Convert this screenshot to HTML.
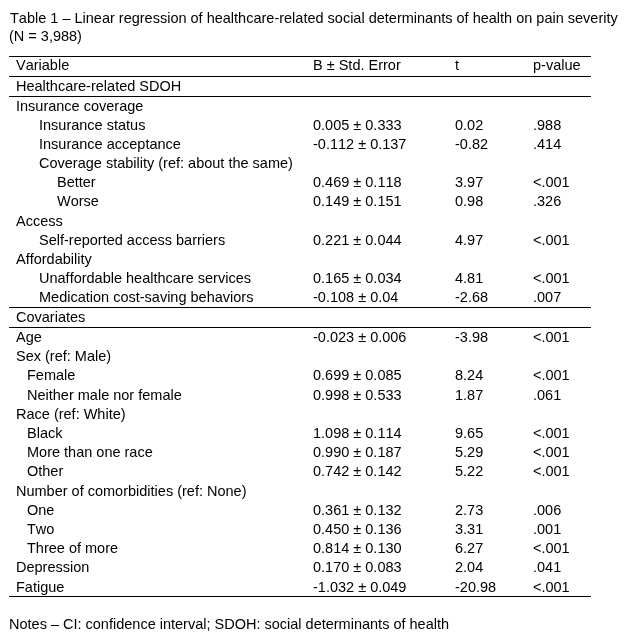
<!DOCTYPE html>
<html lang="en"><head><meta charset="utf-8"><title>Table 1</title>
<style>
html,body{margin:0;padding:0;background:#fff;}
body{width:628px;height:639px;position:relative;overflow:hidden;font-family:"Liberation Sans",Arial,sans-serif;font-size:14.5px;line-height:18px;color:#000;font-kerning:none;}
.t{position:absolute;white-space:nowrap;will-change:transform;}
.l{position:absolute;left:9px;width:582px;height:1px;background:#000;}
</style></head><body>

<div class="t" style="left:10px;top:9px">Table 1 – Linear regression of healthcare-related social determinants of health on pain severity</div>
<div class="t" style="left:9px;top:27px">(N = 3,988)</div>
<div class="l" style="top:56px"></div>
<div class="l" style="top:76px"></div>
<div class="l" style="top:96px"></div>
<div class="l" style="top:307px"></div>
<div class="l" style="top:327px"></div>
<div class="l" style="top:596px"></div>
<div class="t" style="left:16px;top:56px">Variable</div>
<div class="t" style="left:313px;top:56px">B ± Std. Error</div>
<div class="t" style="left:455px;top:56px">t</div>
<div class="t" style="left:533px;top:56px">p-value</div>
<div class="t" style="left:16px;top:77px">Healthcare-related SDOH</div>
<div class="t" style="left:16px;top:97px">Insurance coverage</div>
<div class="t" style="left:39px;top:116px">Insurance status</div>
<div class="t" style="left:313px;top:116px">0.005 ± 0.333</div>
<div class="t" style="left:455px;top:116px">0.02</div>
<div class="t" style="left:533px;top:116px">.988</div>
<div class="t" style="left:39px;top:135px">Insurance acceptance</div>
<div class="t" style="left:313px;top:135px">-0.112 ± 0.137</div>
<div class="t" style="left:455px;top:135px">-0.82</div>
<div class="t" style="left:533px;top:135px">.414</div>
<div class="t" style="left:39px;top:154px">Coverage stability (ref: about the same)</div>
<div class="t" style="left:57px;top:173px">Better</div>
<div class="t" style="left:313px;top:173px">0.469 ± 0.118</div>
<div class="t" style="left:455px;top:173px">3.97</div>
<div class="t" style="left:533px;top:173px">&lt;.001</div>
<div class="t" style="left:57px;top:192px">Worse</div>
<div class="t" style="left:313px;top:192px">0.149 ± 0.151</div>
<div class="t" style="left:455px;top:192px">0.98</div>
<div class="t" style="left:533px;top:192px">.326</div>
<div class="t" style="left:16px;top:212px">Access</div>
<div class="t" style="left:39px;top:231px">Self-reported access barriers</div>
<div class="t" style="left:313px;top:231px">0.221 ± 0.044</div>
<div class="t" style="left:455px;top:231px">4.97</div>
<div class="t" style="left:533px;top:231px">&lt;.001</div>
<div class="t" style="left:16px;top:250px">Affordability</div>
<div class="t" style="left:39px;top:269px">Unaffordable healthcare services</div>
<div class="t" style="left:313px;top:269px">0.165 ± 0.034</div>
<div class="t" style="left:455px;top:269px">4.81</div>
<div class="t" style="left:533px;top:269px">&lt;.001</div>
<div class="t" style="left:39px;top:288px">Medication cost-saving behaviors</div>
<div class="t" style="left:313px;top:288px">-0.108 ± 0.04</div>
<div class="t" style="left:455px;top:288px">-2.68</div>
<div class="t" style="left:533px;top:288px">.007</div>
<div class="t" style="left:16px;top:308px">Covariates</div>
<div class="t" style="left:16px;top:328px">Age</div>
<div class="t" style="left:313px;top:328px">-0.023 ± 0.006</div>
<div class="t" style="left:455px;top:328px">-3.98</div>
<div class="t" style="left:533px;top:328px">&lt;.001</div>
<div class="t" style="left:16px;top:347px">Sex (ref: Male)</div>
<div class="t" style="left:27px;top:366px">Female</div>
<div class="t" style="left:313px;top:366px">0.699 ± 0.085</div>
<div class="t" style="left:455px;top:366px">8.24</div>
<div class="t" style="left:533px;top:366px">&lt;.001</div>
<div class="t" style="left:27px;top:386px">Neither male nor female</div>
<div class="t" style="left:313px;top:386px">0.998 ± 0.533</div>
<div class="t" style="left:455px;top:386px">1.87</div>
<div class="t" style="left:533px;top:386px">.061</div>
<div class="t" style="left:16px;top:405px">Race (ref: White)</div>
<div class="t" style="left:27px;top:424px">Black</div>
<div class="t" style="left:313px;top:424px">1.098 ± 0.114</div>
<div class="t" style="left:455px;top:424px">9.65</div>
<div class="t" style="left:533px;top:424px">&lt;.001</div>
<div class="t" style="left:27px;top:443px">More than one race</div>
<div class="t" style="left:313px;top:443px">0.990 ± 0.187</div>
<div class="t" style="left:455px;top:443px">5.29</div>
<div class="t" style="left:533px;top:443px">&lt;.001</div>
<div class="t" style="left:27px;top:462px">Other</div>
<div class="t" style="left:313px;top:462px">0.742 ± 0.142</div>
<div class="t" style="left:455px;top:462px">5.22</div>
<div class="t" style="left:533px;top:462px">&lt;.001</div>
<div class="t" style="left:16px;top:482px">Number of comorbidities (ref: None)</div>
<div class="t" style="left:27px;top:501px">One</div>
<div class="t" style="left:313px;top:501px">0.361 ± 0.132</div>
<div class="t" style="left:455px;top:501px">2.73</div>
<div class="t" style="left:533px;top:501px">.006</div>
<div class="t" style="left:27px;top:520px">Two</div>
<div class="t" style="left:313px;top:520px">0.450 ± 0.136</div>
<div class="t" style="left:455px;top:520px">3.31</div>
<div class="t" style="left:533px;top:520px">.001</div>
<div class="t" style="left:27px;top:539px">Three of more</div>
<div class="t" style="left:313px;top:539px">0.814 ± 0.130</div>
<div class="t" style="left:455px;top:539px">6.27</div>
<div class="t" style="left:533px;top:539px">&lt;.001</div>
<div class="t" style="left:16px;top:558px">Depression</div>
<div class="t" style="left:313px;top:558px">0.170 ± 0.083</div>
<div class="t" style="left:455px;top:558px">2.04</div>
<div class="t" style="left:533px;top:558px">.041</div>
<div class="t" style="left:16px;top:578px">Fatigue</div>
<div class="t" style="left:313px;top:578px">-1.032 ± 0.049</div>
<div class="t" style="left:455px;top:578px">-20.98</div>
<div class="t" style="left:533px;top:578px">&lt;.001</div>
<div class="t" style="left:9px;top:615px">Notes – CI: confidence interval; SDOH: social determinants of health</div>
</body></html>
